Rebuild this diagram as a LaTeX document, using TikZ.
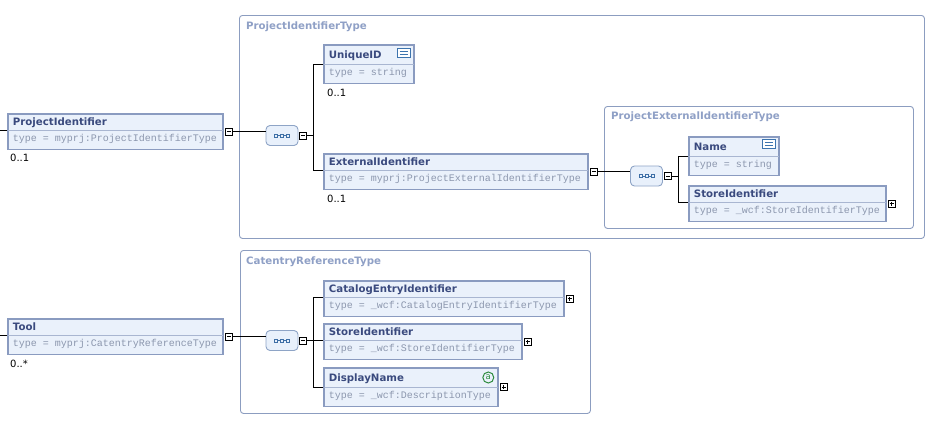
\documentclass[tikz,border=0pt]{standalone}
\usepackage{fontspec}
\setmainfont{DejaVu Sans}
\setmonofont{Liberation Mono}
\usepackage{xcolor}
\usepackage{tikz}
\usetikzlibrary{positioning,calc,shapes.multipart}
\definecolor{boxc}{HTML}{8A9BC0}
\definecolor{boxfill}{HTML}{EAF1FB}
\definecolor{divc}{HTML}{A9B6D1}
\definecolor{titlec}{HTML}{3A4A7E}
\definecolor{typec}{HTML}{8C97AE}
\definecolor{grpc}{HTML}{8C9DC0}
\definecolor{grplabc}{HTML}{8FA0C6}
\definecolor{seqline}{HTML}{8EA4C6}
\definecolor{seqfill}{HTML}{E8F0FB}
\definecolor{seqicon}{HTML}{3E6FA6}
\definecolor{iconc}{HTML}{3D74AE}
\definecolor{atc}{HTML}{2E8B3E}
\newcommand\titlesize{\fontsize{10.2pt}{12pt}\selectfont}
\newcommand\typesize{\fontsize{10pt}{12pt}\selectfont\ttfamily}
\newcommand\tsp{\hspace*{6pt}}
\newcommand\ttl[1]{\rule[-4pt]{0pt}{15pt}{\titlesize\bfseries\color{titlec}#1}}
\newcommand\ttlb[1]{\rule[-5pt]{0pt}{18pt}{\titlesize\bfseries\color{titlec}#1}}
\newcommand\typ[1]{\rule[-7pt]{0pt}{17pt}{\typesize\color{typec}type\tsp=\tsp #1}}

\begin{document}
\begin{tikzpicture}[
  x=1pt, y=-1pt,
  elem/.style={rectangle split, rectangle split parts=2, rectangle split draw splits=false,
    draw=boxc, line width=1.8pt, fill=boxfill, inner xsep=5pt, inner ysep=0pt,
    text width=#1, align=left, anchor=north west},
  divl/.style={draw=divc, line width=0.9pt, shorten <=1pt, shorten >=1pt},
  grp/.style={draw=grpc, line width=0.9pt, rounded corners=3pt, fill=white, anchor=north west, inner sep=0pt},
  grplab/.style={anchor=base west, inner sep=0pt, text=grplabc, font=\titlesize\bfseries},
  card/.style={anchor=base west, inner sep=0pt, font=\fontsize{10pt}{12pt}\selectfont},
  wire/.style={draw=black, line width=0.9pt},
  tog/.style={draw=black, fill=white, line width=0.9pt, minimum size=7pt, inner sep=0pt, anchor=west},
  minus/.style={tog, path picture={
    \draw[line width=0.9pt] ([xshift=1.5pt]path picture bounding box.west) -- ([xshift=-1.5pt]path picture bounding box.east);}},
  plus/.style={tog, path picture={
    \draw[line width=0.9pt] ([xshift=1.5pt]path picture bounding box.west) -- ([xshift=-1.5pt]path picture bounding box.east);
    \draw[line width=0.9pt] ([yshift=1.5pt]path picture bounding box.south) -- ([yshift=-1.5pt]path picture bounding box.north);}},
  seq/.style={rounded corners=4pt, draw=seqline, fill=seqfill, line width=0.9pt,
    minimum width=32pt, minimum height=20pt, inner sep=0pt, path picture={
    \draw[seqicon, line width=0.6pt, sharp corners] ([xshift=-6pt]path picture bounding box.center) -- ([xshift=6pt]path picture bounding box.center);
    \foreach \dx in {-6,0,6}
      \filldraw[draw=seqicon, fill=seqfill, line width=0.6pt, sharp corners] ([xshift=\dx pt]path picture bounding box.center) +(-1.3,-1.3) rectangle +(1.3,1.3);}},
  eqicon/.style={draw=iconc, line width=0.9pt, fill=white, minimum width=13pt, minimum height=9pt,
    inner sep=0pt, anchor=north east, path picture={
    \draw[iconc, line width=0.8pt] ([shift={(-4pt,1.5pt)}]path picture bounding box.center) -- ([shift={(4pt,1.5pt)}]path picture bounding box.center);
    \draw[iconc, line width=0.8pt] ([shift={(-4pt,-1.5pt)}]path picture bounding box.center) -- ([shift={(4pt,-1.5pt)}]path picture bounding box.center);}},
  aticon/.style={circle, draw=atc, line width=1pt, minimum size=11pt, inner sep=0pt, text=atc,
    font=\fontsize{8.5pt}{8.5pt}\selectfont}
]
  \useasboundingbox (0,0) rectangle (931,423);
  \coordinate (lft) at (0,0);

  \node[grp, minimum width=685pt, minimum height=223pt] (pitype) at (239,15) {};
  \node[grplab] (pitypel) at ($(pitype.north west)+(7,14)$) {ProjectIdentifierType};
  \node[grp, minimum width=309pt, minimum height=122pt] (peitype) at (604,106) {};
  \node[grplab] (peitypel) at ($(peitype.north west)+(7,13)$) {ProjectExternalIdentifierType};
  \node[grp, minimum width=350pt, minimum height=163pt] (crtype) at (240,250) {};
  \node[grplab] (crtypel) at ($(crtype.north west)+(6,14)$) {CatentryReferenceType};

  \node[elem=205pt] (pid) at (7,113) {\ttl{ProjectIdentifier}\nodepart{two}\typ{myprj:ProjectIdentifierType}};
  \node[elem=80pt] (uid) at (323,44) {\ttlb{UniqueID}\nodepart{two}\typ{string}};
  \node[elem=254pt] (ext) at (323,153) {\ttl{ExternalIdentifier}\nodepart{two}\typ{myprj:ProjectExternalIdentifierType}};
  \node[elem=80pt] (name) at (688,136) {\ttlb{Name}\nodepart{two}\typ{string}};
  \node[elem=187pt] (sid1) at (688,185) {\ttl{StoreIdentifier}\nodepart{two}\typ{\_wcf:StoreIdentifierType}};
  \node[elem=205pt] (tool) at (7,318) {\ttl{Tool}\nodepart{two}\typ{myprj:CatentryReferenceType}};
  \node[elem=230pt] (cat) at (323,280) {\ttl{CatalogEntryIdentifier}\nodepart{two}\typ{\_wcf:CatalogEntryIdentifierType}};
  \node[elem=188pt] (sid2) at (323,323) {\ttl{StoreIdentifier}\nodepart{two}\typ{\_wcf:StoreIdentifierType}};
  \node[elem=164pt] (disp) at (323,367) {\ttlb{DisplayName}\nodepart{two}\typ{\_wcf:DescriptionType}};

  \foreach \n in {pid,uid,ext,name,sid1,tool,cat,sid2,disp}
    \draw[divl] (\n.text split west) -- (\n.text split east);

  \node[eqicon] (uideq) at ($(uid.north east)+(-4,4)$) {};
  \node[eqicon] (nameeq) at ($(name.north east)+(-4,3)$) {};
  \node[aticon] (dispat) at ($(disp.north east)+(-10.5,10.5)$) {a};

  \node[card] (pidc) at ($(pid.south west)+(3,11)$) {0..1};
  \node[card] (uidc) at ($(uid.south west)+(4,12)$) {0..1};
  \node[card] (extc) at ($(ext.south west)+(4,12)$) {0..1};
  \node[card] (toolc) at ($(tool.south west)+(3,12)$) {0..*};

  \node[seq] (seq1) at (282,135.5) {};
  \node[seq] (seq2) at (646.5,176) {};
  \node[seq] (seq3) at (282,340.5) {};

  \node[minus] (pidm) at ([xshift=1pt]pid.east) {};
  \node[minus] (extm) at ([xshift=1pt]ext.east) {};
  \node[minus] (toolm) at ([xshift=1pt]tool.east) {};
  \node[minus] (seq1m) at ([xshift=1pt]seq1.east) {};
  \node[minus] (seq2m) at ([xshift=1pt]seq2.east) {};
  \node[minus] (seq3m) at ([xshift=1pt]seq3.east) {};
  \node[plus] (sid1p) at ([xshift=1pt]sid1.east) {};
  \node[plus] (catp) at ([xshift=1pt]cat.east) {};
  \node[plus] (sid2p) at ([xshift=1pt]sid2.east) {};
  \node[plus] (dispp) at ([xshift=1pt]disp.east) {};

  \coordinate (b1) at ($(seq1m.east)+(6.5,0)$);
  \coordinate (b2) at ($(seq2m.east)+(6.5,0)$);
  \coordinate (b3) at ($(seq3m.east)+(6.5,0)$);

  \draw[wire] (lft |- pid.text split west) -- (pid.text split west);
  \draw[wire] (lft |- tool.text split west) -- (tool.text split west);
  \draw[wire] (pidm) -- (pidm -| seq1.west);
  \draw[wire] (extm) -- (extm -| seq2.west);
  \draw[wire] (toolm) -- (toolm -| seq3.west);
  \draw[wire] (seq1m) -- (b1);
  \draw[wire] (seq2m) -- (b2);
  \draw[wire] (seq3m) -- (b3);
  \draw[wire] (uid.text split west) -| (b1) |- (ext.text split west);
  \draw[wire] (name.text split west) -| (b2) |- (sid1.text split west);
  \draw[wire] (cat.text split west) -| (b3) |- (disp.text split west);
  \draw[wire] (b3 |- sid2.text split west) -- (sid2.text split west);
\end{tikzpicture}
\end{document}
